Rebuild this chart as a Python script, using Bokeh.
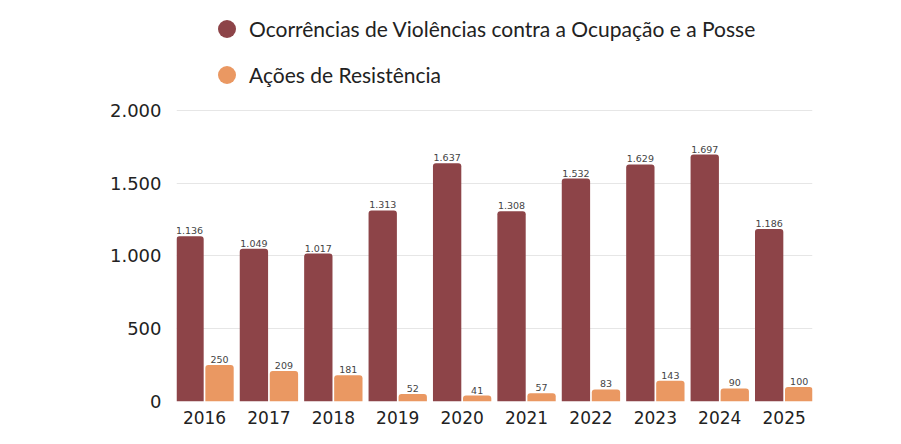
from bokeh.plotting import figure
from bokeh.models import ColumnDataSource, Range1d, FixedTicker, Legend, LegendItem
from bokeh.transform import dodge
from bokeh.core.properties import value
from bokeh.embed import file_html
from bokeh.resources import INLINE

years = [2016, 2017, 2018, 2019, 2020, 2021, 2022, 2023, 2024, 2025]
ocorrencias = [1136, 1049, 1017, 1313, 1637, 1308, 1532, 1629, 1697, 1186]
resistencia = [250, 209, 181, 52, 41, 57, 83, 143, 90, 100]
series_names = ["Ocorrências de Violências contra a Ocupação e a Posse", "Ações de Resistência"]
y_ticks = [0, 500, 1000, 1500, 2000]
y_tick_labels = ["0", "500", "1.000", "1.500", "2.000"]

MAROON = "#8D4448"
ORANGE = "#EA9862"


def fmt(v):
    return f"{v:,}".replace(",", ".")


src = ColumnDataSource(dict(
    year=years,
    oc=ocorrencias,
    re=resistencia,
    oc_lbl=[fmt(v) for v in ocorrencias],
    re_lbl=[fmt(v) for v in resistencia],
))

p = figure(width=893, height=436, output_backend="svg", toolbar_location=None,
           x_range=Range1d(2015.565, 2025.44), y_range=Range1d(0, 2756),
           min_border_left=176, min_border_right=81, min_border_top=0, min_border_bottom=35)
p.outline_line_color = None
p.background_fill_color = "white"
p.border_fill_color = "white"

off = 0.233
w = 0.44
p.vbar(x=dodge("year", -off), top="oc", width=w, source=src, fill_color=MAROON,
       line_color=None, border_radius=(3, 3, 0, 0))
p.vbar(x=dodge("year", off), top="re", width=w, source=src, fill_color=ORANGE,
       line_color=None, border_radius=(3, 3, 0, 0))

p.text(x=dodge("year", -off), y="oc", text="oc_lbl", source=src, text_align="center",
       text_baseline="bottom", y_offset=-2, text_font=value("DejaVu Sans"),
       text_font_size="9.5px", text_color="#444444")
p.text(x=dodge("year", off), y="re", text="re_lbl", source=src, text_align="center",
       text_baseline="bottom", y_offset=-2, text_font=value("DejaVu Sans"),
       text_font_size="9.5px", text_color="#444444")

# legend markers (not drawn in the plot area: NaN positions)
nan = float("nan")
r1 = p.scatter(x=[nan], y=[nan], marker="circle", fill_color=MAROON, line_color=None)
r2 = p.scatter(x=[nan], y=[nan], marker="circle", fill_color=ORANGE, line_color=None)
legend = Legend(items=[LegendItem(label=series_names[0], renderers=[r1]),
                       LegendItem(label=series_names[1], renderers=[r2])],
                location=(28, 304), orientation="vertical",
                glyph_width=45, glyph_height=45, label_height=45, spacing=1,
                label_standoff=-2, padding=0, margin=0,
                background_fill_alpha=0, border_line_alpha=0,
                label_text_font="Lato", label_text_font_size="21px",
                label_text_color="#222222")
p.add_layout(legend, "center")

p.xgrid.grid_line_color = None
p.ygrid.grid_line_color = "#e6e6e6"
p.ygrid.grid_line_width = 1

p.yaxis.ticker = FixedTicker(ticks=y_ticks)
p.yaxis.major_label_overrides = {t: l for t, l in zip(y_ticks, y_tick_labels)}
p.xaxis.ticker = FixedTicker(ticks=years)
p.xaxis.major_label_overrides = {y: str(y) for y in years}

for ax in (p.xaxis, p.yaxis):
    ax.axis_line_color = None
    ax.major_tick_line_color = None
    ax.minor_tick_line_color = None
    ax.major_tick_out = 0
    ax.major_tick_in = 0
    ax.minor_tick_out = 0
    ax.major_label_text_font = "DejaVu Sans"
    ax.major_label_text_color = "#222222"

p.yaxis.major_label_text_font_size = "18px"
p.yaxis.major_label_standoff = 15
p.xaxis.major_label_text_font_size = "17px"
p.xaxis.major_label_standoff = 9

open("out.html", "w").write(file_html(p, INLINE))
